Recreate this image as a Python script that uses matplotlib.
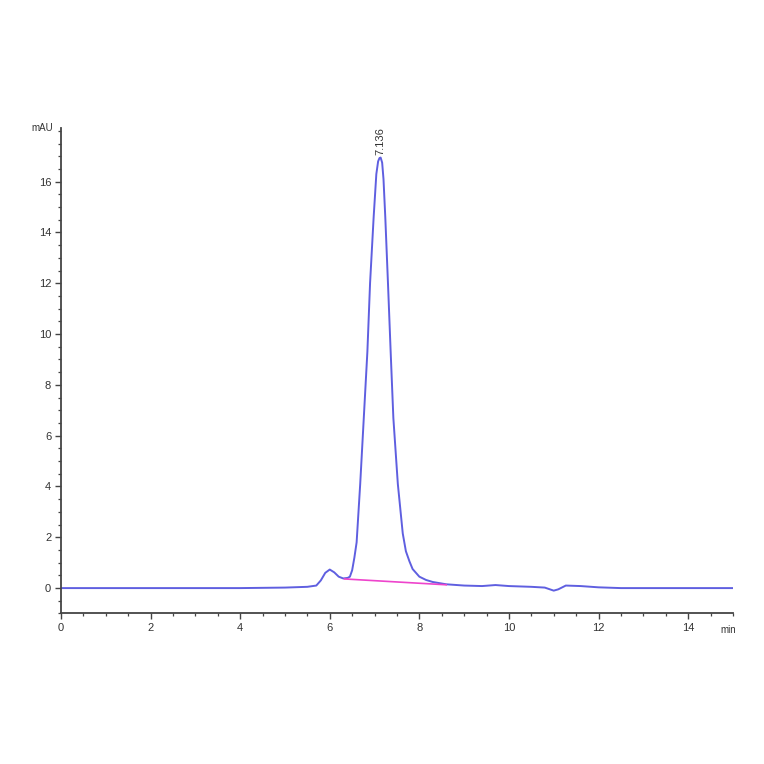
import matplotlib
matplotlib.use("Agg")
import matplotlib.pyplot as plt
from matplotlib.ticker import MultipleLocator

plt.rcParams['font.family'] = ['Liberation Sans', 'DejaVu Sans']

# chromatogram (time in min, signal in mAU)
time_min = [0, 1.0, 2.0, 3.0, 4.0, 5.0, 5.5, 5.7, 5.8, 5.9, 6.0, 6.1, 6.2, 6.3,
            6.4, 6.45, 6.5, 6.55, 6.6, 6.68, 6.76, 6.84, 6.9, 6.98, 7.04, 7.08,
            7.11, 7.136, 7.17, 7.20, 7.24, 7.30, 7.36, 7.42, 7.52, 7.63, 7.7,
            7.78, 7.85, 8.0, 8.15, 8.3, 8.6, 9.0, 9.4, 9.7, 10.0, 10.5, 10.8,
            11.0, 11.1, 11.27, 11.6, 12.0, 12.5, 13.0, 14.0, 15.0]
signal_mau = [0, 0, 0, 0, 0, 0.02, 0.05, 0.1, 0.3, 0.6, 0.73, 0.62, 0.45, 0.38,
              0.40, 0.45, 0.7, 1.2, 1.8, 4.1, 6.7, 9.3, 12.0, 14.6, 16.3, 16.8,
              16.93, 16.95, 16.75, 16.1, 14.6, 12.0, 9.3, 6.7, 4.1, 2.15, 1.45,
              1.05, 0.75, 0.45, 0.32, 0.24, 0.15, 0.1, 0.08, 0.12, 0.08, 0.05,
              0.02, -0.1, -0.05, 0.1, 0.08, 0.03, 0.0, 0, 0, 0]

baseline_t = [6.33, 8.6]
baseline_y = [0.36, 0.13]

peak_t = 7.136
peak_y = 16.95
peak_label = "7.136"

x_ticks = [0, 2, 4, 6, 8, 10, 12, 14]
y_ticks = [0, 2, 4, 6, 8, 10, 12, 14, 16]

fig = plt.figure(figsize=(7.64, 7.64), dpi=100)
ax = fig.add_axes([0.0798, 0.197, 0.8795, 0.635])

ax.plot(time_min, signal_mau, color='#5f5fe0', lw=1.4)
ax.plot(baseline_t, baseline_y, color='#ee44cc', lw=1.2)

ax.text(peak_t, peak_y + 0.1, peak_label, rotation=90, ha='center', va='bottom',
        fontsize=8, color='#333333')

ax.set_xlim(0, 15)
ax.set_ylim(-1, 18.1)
ax.set_xticks(x_ticks)
ax.set_yticks(y_ticks)
ax.xaxis.set_minor_locator(MultipleLocator(0.5))
ax.yaxis.set_minor_locator(MultipleLocator(0.5))

for s in ['top', 'right']:
    ax.spines[s].set_visible(False)
for s in ['left', 'bottom']:
    ax.spines[s].set_color('#444444')
    ax.spines[s].set_linewidth(1.3)

ax.tick_params(which='major', direction='out', length=4, width=1.0,
               colors='#444444', labelsize=8, labelcolor='#333333', pad=3)
ax.tick_params(which='minor', direction='out', length=2, width=0.9,
               colors='#444444')

ax.text(-0.012, 1.0, "mAU", transform=ax.transAxes, ha='right', va='center',
        fontsize=7, color='#333333')
ax.text(0.993, -0.035, "min", transform=ax.transAxes, ha='center', va='center',
        fontsize=7, color='#333333')

fig.savefig("out.png", dpi=100, facecolor='white')
